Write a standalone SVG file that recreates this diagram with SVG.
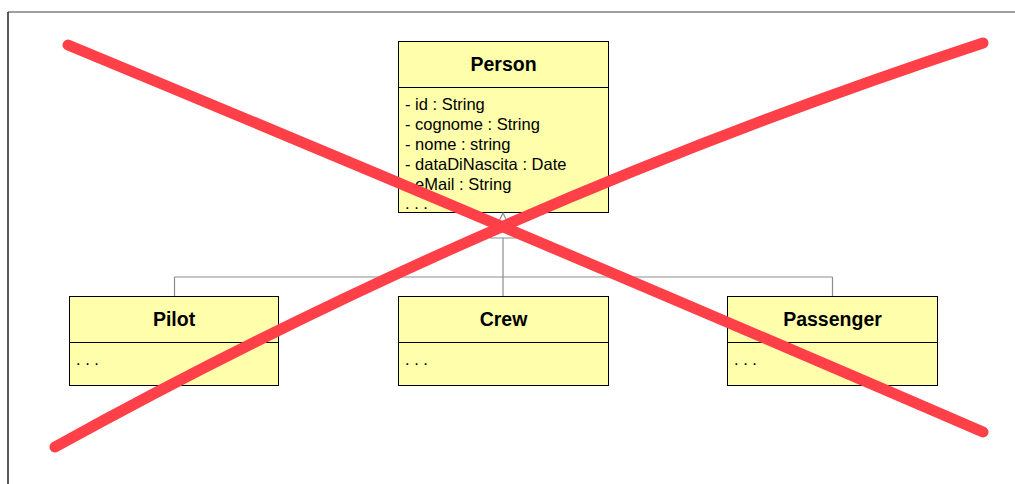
<svg xmlns="http://www.w3.org/2000/svg" width="1015" height="484" viewBox="0 0 1015 484">
<style>
.box{fill:#ffffab;stroke:#000;stroke-width:1}
.div{stroke:#000;stroke-width:1}
.title{font-family:"Liberation Sans",Arial,sans-serif;font-weight:bold;font-size:19.5px;text-anchor:middle;fill:#000}
.attr{font-family:"Liberation Sans",Arial,sans-serif;font-size:16.5px;fill:#000}
.conn{stroke:#8c8c8c;stroke-width:1.2;fill:none}
.x{stroke:#ff4048;stroke-width:11;fill:none;stroke-linecap:round}
</style>
<rect width="1015" height="484" fill="#fff"/>
<g id="frame">
<line x1="8" y1="12" x2="1015" y2="12" stroke="#808080" stroke-width="1.5"/>
<line x1="8" y1="12" x2="8" y2="484" stroke="#222" stroke-width="1.5"/>
</g>
<g id="person">
<rect class="box" x="398.5" y="41.5" width="210" height="171"/>
<line class="div" x1="398.5" y1="87.5" x2="608.5" y2="87.5"/>
<text class="title" x="503.5" y="71">Person</text>
<text class="attr" x="405" y="110">- id : String</text>
<text class="attr" x="405" y="130">- cognome : String</text>
<text class="attr" x="405" y="150">- nome : string</text>
<text class="attr" x="405" y="170">- dataDiNascita : Date</text>
<text class="attr" x="405" y="190">- eMail : String</text>
<text class="attr" x="405" y="209">. . .</text>
</g>
<g id="connectors">
<polygon class="conn" points="503,213 490.5,238 515.5,238"/>
<line class="conn" x1="503" y1="238" x2="503" y2="296"/>
<line class="conn" x1="174.5" y1="277" x2="832.5" y2="277"/>
<line class="conn" x1="174.5" y1="277" x2="174.5" y2="296"/>
<line class="conn" x1="832.5" y1="277" x2="832.5" y2="296" stroke="#222"/>
</g>
<g id="pilot">
<rect class="box" x="69.5" y="296.5" width="209" height="89"/>
<line class="div" x1="69.5" y1="342.5" x2="278.5" y2="342.5"/>
<text class="title" x="174" y="326">Pilot</text>
<text class="attr" x="76" y="365">. . .</text>
</g>
<g id="crew">
<rect class="box" x="398.5" y="296.5" width="210" height="89"/>
<line class="div" x1="398.5" y1="342.5" x2="608.5" y2="342.5"/>
<text class="title" x="503.5" y="326">Crew</text>
<text class="attr" x="405" y="365">. . .</text>
</g>
<g id="passenger">
<rect class="box" x="727.5" y="296.5" width="210" height="89"/>
<line class="div" x1="727.5" y1="342.5" x2="937.5" y2="342.5"/>
<text class="title" x="832.5" y="326">Passenger</text>
<text class="attr" x="734" y="365">. . .</text>
</g>
<g id="cross">
<path class="x" d="M68,45 Q520,232 983,432"/>
<path class="x" d="M55,447 Q497,203 983,43"/>
</g>
</svg>
